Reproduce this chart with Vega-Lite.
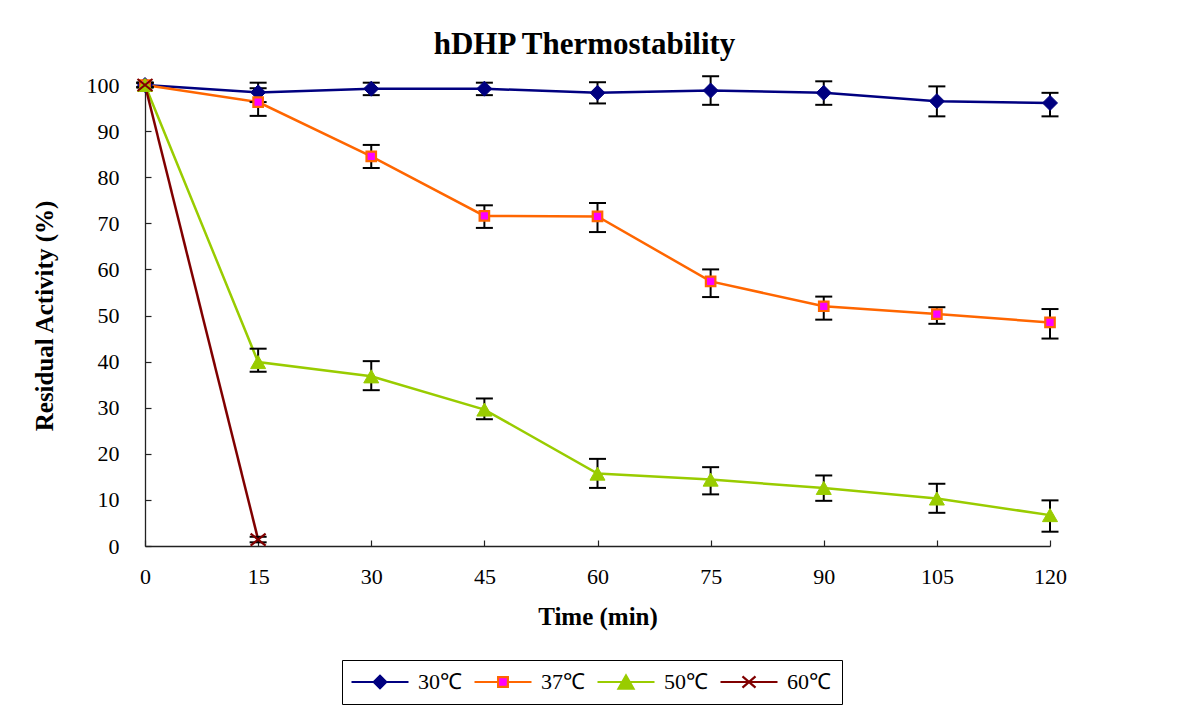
{
  "$schema": "https://vega.github.io/schema/vega-lite/v6.json",
  "autosize": "none",
  "width": 905,
  "height": 461,
  "padding": {"left": 145, "top": 85, "right": 132, "bottom": 171},
  "background": "white",
  "title": {"text": "hDHP Thermostability", "font": "Liberation Serif", "fontSize": 31, "fontWeight": "bold", "color": "black", "anchor": "middle", "dx": -13, "offset": 13},
  "config": {
    "view": {"stroke": null},
    "axis": {"labelFont": "Liberation Serif", "labelFontSize": 22, "labelColor": "black", "titleFont": "Liberation Serif", "titleFontSize": 25, "titleFontWeight": "bold", "titleColor": "black", "grid": false, "domainColor": "#222222", "domainWidth": 1.3, "tickColor": "#222222", "tickWidth": 1.2, "tickSize": -6, "labelFlush": false}
  },
  "data": {"values": [
    {"series": "30℃", "time": 0, "value": 100, "lo": 99.6, "hi": 100.4},
    {"series": "30℃", "time": 15, "value": 98.4, "lo": 96.3, "hi": 100.5},
    {"series": "30℃", "time": 30, "value": 99.2, "lo": 97.8, "hi": 100.5},
    {"series": "30℃", "time": 45, "value": 99.2, "lo": 97.8, "hi": 100.5},
    {"series": "30℃", "time": 60, "value": 98.3, "lo": 96.0, "hi": 100.6},
    {"series": "30℃", "time": 75, "value": 98.8, "lo": 95.7, "hi": 101.9},
    {"series": "30℃", "time": 90, "value": 98.3, "lo": 95.7, "hi": 100.8},
    {"series": "30℃", "time": 105, "value": 96.5, "lo": 93.2, "hi": 99.7},
    {"series": "30℃", "time": 120, "value": 96.1, "lo": 93.2, "hi": 98.3},
    {"series": "37℃", "time": 0, "value": 100, "lo": 99.5, "hi": 100.5},
    {"series": "37℃", "time": 15, "value": 96.3, "lo": 93.3, "hi": 99.3},
    {"series": "37℃", "time": 30, "value": 84.5, "lo": 82.0, "hi": 87.0},
    {"series": "37℃", "time": 45, "value": 71.6, "lo": 69.0, "hi": 73.9},
    {"series": "37℃", "time": 60, "value": 71.5, "lo": 68.1, "hi": 74.4},
    {"series": "37℃", "time": 75, "value": 57.4, "lo": 54.0, "hi": 60.0},
    {"series": "37℃", "time": 90, "value": 52.0, "lo": 49.1, "hi": 54.1},
    {"series": "37℃", "time": 105, "value": 50.3, "lo": 48.2, "hi": 51.8},
    {"series": "37℃", "time": 120, "value": 48.5, "lo": 45.0, "hi": 51.4},
    {"series": "50℃", "time": 0, "value": 100, "lo": 99.5, "hi": 100.5},
    {"series": "50℃", "time": 15, "value": 39.9, "lo": 37.8, "hi": 42.8},
    {"series": "50℃", "time": 30, "value": 36.8, "lo": 33.8, "hi": 40.1},
    {"series": "50℃", "time": 45, "value": 29.6, "lo": 27.5, "hi": 32.0},
    {"series": "50℃", "time": 60, "value": 15.7, "lo": 12.6, "hi": 18.9},
    {"series": "50℃", "time": 75, "value": 14.4, "lo": 11.2, "hi": 17.1},
    {"series": "50℃", "time": 90, "value": 12.6, "lo": 9.8, "hi": 15.3},
    {"series": "50℃", "time": 105, "value": 10.3, "lo": 7.2, "hi": 13.5},
    {"series": "50℃", "time": 120, "value": 6.7, "lo": 3.1, "hi": 9.9},
    {"series": "60℃", "time": 0, "value": 100, "lo": 99.5, "hi": 100.5},
    {"series": "60℃", "time": 15, "value": 1.4, "lo": 0.8, "hi": 2.0}
  ]},
  "layer": [
    {
      "transform": [{"filter": "datum.time === 0"}],
      "mark": {"type": "point", "filled": true, "strokeWidth": 2.2, "size": 225, "opacity": 0},
      "encoding": {
        "x": {"field": "time", "type": "quantitative", "scale": {"domain": [0, 120], "nice": false}, "axis": {"values": [0, 15, 30, 45, 60, 75, 90, 105, 120], "labelPadding": 26, "titlePadding": 17}, "title": "Time (min)"},
        "y": {"field": "value", "type": "quantitative", "scale": {"domain": [0, 100], "nice": false}, "axis": {"values": [0, 10, 20, 30, 40, 50, 60, 70, 80, 90, 100], "labelPadding": 32, "titlePadding": 29}, "title": "Residual Activity (%)"},
        "stroke": {"field": "series", "type": "nominal",
          "scale": {"domain": ["30℃", "37℃", "50℃", "60℃"], "range": ["#000080", "#FF6600", "#99CC00", "#800000"]},
          "legend": {"title": null, "orient": "none", "legendX": 197, "legendY": 575, "direction": "horizontal", "columns": 4, "strokeColor": "black", "padding": 11, "symbolSize": 225, "symbolOffset": 16, "labelOffset": 27, "columnPadding": 8, "labelFont": "Liberation Serif", "labelFontSize": 22, "labelColor": "black", "symbolStrokeWidth": 2.2, "symbolOpacity": 1}},
        "fill": {"field": "series", "type": "nominal",
          "scale": {"domain": ["30℃", "37℃", "50℃", "60℃"], "range": ["#000080", "#FF00FF", "#99CC00", "transparent"]},
          "legend": {"title": null, "orient": "none", "legendX": 197, "legendY": 575, "direction": "horizontal", "columns": 4, "strokeColor": "black", "padding": 11, "symbolSize": 225, "symbolOffset": 16, "labelOffset": 27, "columnPadding": 8, "labelFont": "Liberation Serif", "labelFontSize": 22, "labelColor": "black", "symbolStrokeWidth": 2.2, "symbolOpacity": 1}},
        "shape": {"field": "series", "type": "nominal",
          "scale": {"domain": ["30℃", "37℃", "50℃", "60℃"], "range": ["M-3.8,0L3.8,0M0,-0.83L0.83,0L0,0.83L-0.83,0Z", "M-3.8,0L-0.65,0M0.65,0L3.8,0M-0.65,-0.65L0.65,-0.65L0.65,0.65L-0.65,0.65Z", "M-3.8,0L3.8,0M0,-0.87L1,0.87L-1,0.87Z", "M-3.8,0L3.8,0M-0.87,-0.75L0.87,0.75M-0.87,0.75L0.87,-0.75"]},
          "legend": {"title": null, "orient": "none", "legendX": 197, "legendY": 575, "direction": "horizontal", "columns": 4, "strokeColor": "black", "padding": 11, "symbolSize": 225, "symbolOffset": 16, "labelOffset": 27, "columnPadding": 8, "labelFont": "Liberation Serif", "labelFontSize": 22, "labelColor": "black", "symbolStrokeWidth": 2.2, "symbolOpacity": 1}}
      }
    },
    {
      "mark": {"type": "line", "strokeWidth": 2.5},
      "encoding": {
        "x": {"field": "time", "type": "quantitative", "title": "Time (min)"},
        "y": {"field": "value", "type": "quantitative", "title": "Residual Activity (%)"},
        "color": {"field": "series", "type": "nominal", "scale": {"domain": ["30℃", "37℃", "50℃", "60℃"], "range": ["#000080", "#FF6600", "#99CC00", "#800000"]}, "legend": null}
      }
    },
    {
      "mark": {"type": "rule", "color": "black", "strokeWidth": 2},
      "encoding": {
        "x": {"field": "time", "type": "quantitative", "title": "Time (min)"},
        "y": {"field": "lo", "type": "quantitative", "title": "Residual Activity (%)"},
        "y2": {"field": "hi"}
      }
    },
    {
      "mark": {"type": "tick", "orient": "horizontal", "color": "black", "size": 17, "thickness": 2, "opacity": 1},
      "encoding": {
        "x": {"field": "time", "type": "quantitative", "title": "Time (min)"},
        "y": {"field": "lo", "type": "quantitative", "title": "Residual Activity (%)"}
      }
    },
    {
      "mark": {"type": "tick", "orient": "horizontal", "color": "black", "size": 17, "thickness": 2, "opacity": 1},
      "encoding": {
        "x": {"field": "time", "type": "quantitative", "title": "Time (min)"},
        "y": {"field": "hi", "type": "quantitative", "title": "Residual Activity (%)"}
      }
    },
    {
      "transform": [{"filter": {"field": "series", "equal": "30℃"}}],
      "mark": {"type": "point", "shape": "diamond", "filled": true, "fill": "#000080", "stroke": "#000080", "strokeWidth": 1, "size": 225, "opacity": 1},
      "encoding": {
        "x": {"field": "time", "type": "quantitative", "title": "Time (min)"},
        "y": {"field": "value", "type": "quantitative", "title": "Residual Activity (%)"}
      }
    },
    {
      "transform": [{"filter": {"field": "series", "equal": "37℃"}}],
      "mark": {"type": "point", "shape": "square", "filled": true, "fill": "#FF00FF", "stroke": "#FF6600", "strokeWidth": 2.2, "size": 90, "opacity": 1},
      "encoding": {
        "x": {"field": "time", "type": "quantitative", "title": "Time (min)"},
        "y": {"field": "value", "type": "quantitative", "title": "Residual Activity (%)"}
      }
    },
    {
      "transform": [{"filter": {"field": "series", "equal": "50℃"}}],
      "mark": {"type": "point", "shape": "M0,-0.87L1,0.87L-1,0.87Z", "filled": true, "fill": "#99CC00", "stroke": "#99CC00", "strokeWidth": 1, "size": 225, "opacity": 1},
      "encoding": {
        "x": {"field": "time", "type": "quantitative", "title": "Time (min)"},
        "y": {"field": "value", "type": "quantitative", "title": "Residual Activity (%)"}
      }
    },
    {
      "transform": [{"filter": {"field": "series", "equal": "60℃"}}],
      "mark": {"type": "point", "shape": "M-1,-0.8L1,0.8M-1,0.8L1,-0.8", "filled": false, "stroke": "#800000", "strokeWidth": 2.2, "size": 225, "opacity": 1},
      "encoding": {
        "x": {"field": "time", "type": "quantitative", "title": "Time (min)"},
        "y": {"field": "value", "type": "quantitative", "title": "Residual Activity (%)"}
      }
    }
  ]
}
